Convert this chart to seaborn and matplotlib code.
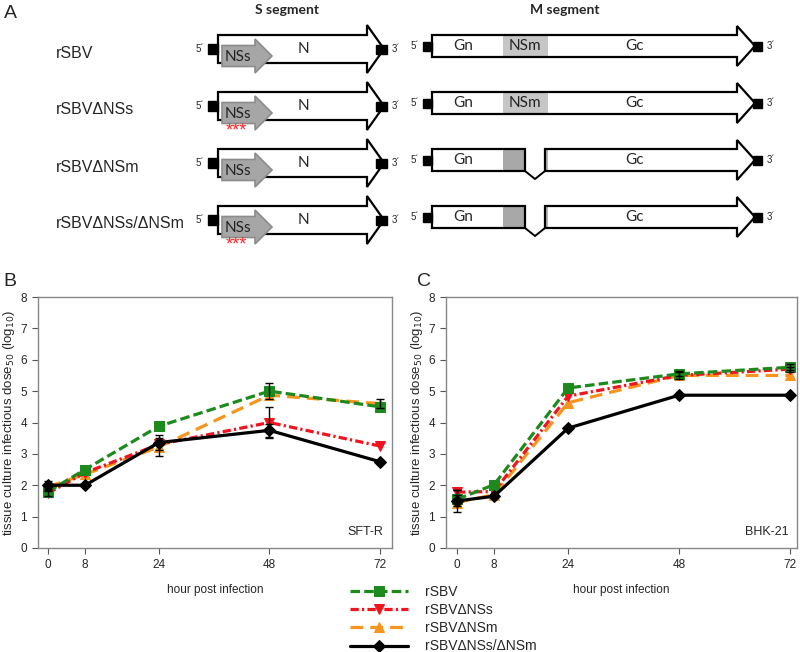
import numpy as np
import pandas as pd
import matplotlib
matplotlib.use("Agg")
import matplotlib.pyplot as plt
import seaborn as sns
from matplotlib.patches import Polygon, Rectangle


# ---- growth curve data (log10 TCID50) ----
HOURS = [0, 8, 24, 48, 72]
SERIES = ["rSBV", "rSBVΔNSs", "rSBVΔNSm", "rSBVΔNSs/ΔNSm"]

sftr_rsbv = [1.8, 2.5, 3.88, 5.0, 4.5]
sftr_dnss = [1.75, 2.4, 3.3, 4.0, 3.25]
sftr_dnsm = [1.95, 2.35, 3.22, 4.87, 4.6]
sftr_double = [2.0, 2.0, 3.36, 3.75, 2.75]

# 0 = no visible error bar
sftr_rsbv_err = [0.0, 0.0, 0.0, 0.25, 0.0]
sftr_dnss_err = [0.08, 0.0, 0.0, 0.5, 0.0]
sftr_dnsm_err = [0.1, 0.0, 0.3, 0.0, 0.15]
sftr_double_err = [0.12, 0.0, 0.25, 0.2, 0.0]

bhk_rsbv = [1.55, 2.02, 5.1, 5.55, 5.76]
bhk_dnss = [1.78, 1.8, 4.84, 5.5, 5.7]
bhk_dnsm = [1.45, 1.7, 4.63, 5.5, 5.5]
bhk_double = [1.5, 1.65, 3.82, 4.87, 4.87]

bhk_rsbv_err = [0.0, 0.0, 0.0, 0.08, 0.1]
bhk_dnss_err = [0.08, 0.0, 0.0, 0.0, 0.08]
bhk_dnsm_err = [0.1, 0.0, 0.0, 0.1, 0.0]
bhk_double_err = [0.35, 0.0, 0.0, 0.0, 0.0]

COLORS = ["#1e8a1e", "#f0141e", "#f7941d", "#000000"]
MARKERS = ["s", "v", "^", "D"]
LINESTYLES = [(0, (3.0, 1.3)), (0, (2.6, 1.0, 0.7, 1.0)), (0, (4.0, 2.2)), "-"]
DRAW_ORDER = [2, 1, 0, 3]

ROW_LABELS = ["rSBV", "rSBVΔNSs", "rSBVΔNSm", "rSBVΔNSs/ΔNSm"]
NSS_MUTATED = [False, True, False, True]
NSM_DELETED = [False, False, True, True]


def long_frame(means, errs):
    rows = []
    for name, m, e in zip(SERIES, means, errs):
        for h, v, s in zip(HOURS, m, e):
            rows.append({"virus": name, "hour": h, "titer": v, "err": s})
    return pd.DataFrame(rows)


sftr_df = long_frame(
    [sftr_rsbv, sftr_dnss, sftr_dnsm, sftr_double],
    [sftr_rsbv_err, sftr_dnss_err, sftr_dnsm_err, sftr_double_err]
)
bhk_df = long_frame(
    [bhk_rsbv, bhk_dnss, bhk_dnsm, bhk_double],
    [bhk_rsbv_err, bhk_dnss_err, bhk_dnsm_err, bhk_double_err]
)


sns.set_style("ticks")
plt.rcParams["font.family"] = ["Liberation Sans", "DejaVu Sans"]

fig = plt.figure(figsize=(8, 6.52), dpi=100)

# overlay axes in pixel coordinates for the schematic and panel letters
ov = fig.add_axes([0, 0, 1, 1])
ov.set_xlim(0, 800)
ov.set_ylim(652, 0)
ov.axis("off")


def arrow_pts(x0, xh, x1, yc, hb, hh):
    return [
        (x0, yc - hb), (xh, yc - hb), (xh, yc - hh), (x1, yc),
        (xh, yc + hh), (xh, yc + hb), (x0, yc + hb)
    ]


LAB_FONT = ["Lato", "DejaVu Sans"]

ov.text(4, 13, "A", fontsize=14, va="center", ha="left")
ov.text(287, 10, "S segment", fontsize=10, weight="bold", ha="center", va="center", family=LAB_FONT)
ov.text(565, 10, "M segment", fontsize=10, weight="bold", ha="center", va="center", family=LAB_FONT)

for i, label in enumerate(ROW_LABELS):
    yc = 49 + 57 * i
    ov.text(56, yc + 4, label, fontsize=11.5, ha="left", va="center")

    # S segment
    ov.add_patch(Polygon(arrow_pts(218, 367, 384, yc, 14, 24), closed=True,
                         facecolor="white", edgecolor="black", lw=1.6, joinstyle="miter"))
    ov.add_patch(Polygon(arrow_pts(222, 255, 272, yc + 7, 10.5, 17), closed=True,
                         facecolor="#a6a6a6", edgecolor="#8c8c8c", lw=1.2))
    ov.add_patch(Rectangle((208, yc - 5), 10, 10, color="black"))
    ov.add_patch(Rectangle((376, yc - 4), 11, 9, color="black"))
    ov.text(200, yc, "5´", fontsize=7, ha="center", va="center")
    ov.text(396, yc, "3´", fontsize=7, ha="center", va="center")
    ov.text(303, yc, "N", fontsize=11, ha="center", va="center", family=LAB_FONT)
    ov.text(238, yc + 8, "NSs", fontsize=11, ha="center", va="center", family=LAB_FONT, color="#222222")
    if NSS_MUTATED[i]:
        ov.text(236, yc + 25, "***", fontsize=13, ha="center", va="center", color="#ff2a2a")

    # M segment
    ym = yc - 3
    hb = 11
    if not NSM_DELETED[i]:
        ov.add_patch(Polygon(arrow_pts(432, 737, 755, ym, hb, 20), closed=True,
                             facecolor="white", edgecolor="none"))
        ov.add_patch(Rectangle((503, ym - hb), 45, 2 * hb, facecolor="#c6c6c6", edgecolor="none"))
        ov.add_patch(Polygon(arrow_pts(432, 737, 755, ym, hb, 20), closed=True,
                             facecolor="none", edgecolor="black", lw=1.6, joinstyle="miter"))
        ov.text(525, ym, "NSm", fontsize=11, ha="center", va="center", family=LAB_FONT, color="#222222")
    else:
        ov.add_patch(Rectangle((503, ym - hb), 22, 2 * hb, facecolor="#a8a8a8", edgecolor="none"))
        ov.add_patch(Rectangle((545, ym - hb), 3, 2 * hb, facecolor="#b4b4b4", edgecolor="none"))
        ov.add_patch(Polygon([(432, ym - hb), (525, ym - hb), (525, ym + hb), (432, ym + hb)],
                             closed=True, facecolor="none", edgecolor="black", lw=1.6))
        ov.add_patch(Polygon(arrow_pts(545, 737, 755, ym, hb, 20), closed=True,
                             facecolor="none", edgecolor="black", lw=1.6, joinstyle="miter"))
        ov.plot([525, 535, 545], [ym + hb, ym + hb + 8, ym + hb], color="black", lw=1.4)
    ov.add_patch(Rectangle((423, ym - 4.5), 9, 9, color="black"))
    ov.add_patch(Rectangle((753, ym - 4), 9, 9, color="black"))
    ov.text(415, ym, "5´", fontsize=7, ha="center", va="center")
    ov.text(771, ym, "3´", fontsize=7, ha="center", va="center")
    ov.text(463, ym, "Gn", fontsize=11, ha="center", va="center", family=LAB_FONT)
    ov.text(635, ym, "Gc", fontsize=11, ha="center", va="center", family=LAB_FONT)

ov.text(3, 281, "B", fontsize=14, va="center", ha="left")
ov.text(417, 281, "C", fontsize=14, va="center", ha="left")


def growth_panel(ax, df, cell_label, xlim):
    for k in DRAW_ORDER:
        name = SERIES[k]
        sub = df[df["virus"] == name]
        sns.lineplot(
            data=sub, x="hour", y="titer", ax=ax,
            color=COLORS[k], linestyle=LINESTYLES[k], linewidth=2.3,
            marker=MARKERS[k], markersize=6.5, markeredgecolor=COLORS[k],
            errorbar=None, label=name, zorder=2
        )
        bars = sub[sub["err"] > 0]
        ax.errorbar(bars["hour"], bars["titer"], yerr=bars["err"], fmt="none",
                    ecolor="black", elinewidth=1, capsize=3, capthick=1, zorder=3)

    if ax.get_legend() is not None:
        ax.get_legend().remove()

    ax.set_xlim(*xlim)
    ax.set_ylim(0, 8)
    ax.set_xticks(HOURS)
    ax.set_yticks(range(0, 9))
    ax.tick_params(labelsize=8.5, length=4, width=0.8, color="#555555", pad=4)
    for sp in ax.spines.values():
        sp.set_visible(True)
        sp.set_color("#888888")
        sp.set_linewidth(1)

    ax.set_xlabel("hour post infection", fontsize=8.5, labelpad=9)
    ax.set_ylabel("tissue culture infectious dose$_{50}$ (log$_{10}$)", fontsize=9.5, labelpad=2)
    ax.text(0.975, 0.065, cell_label, transform=ax.transAxes,
            ha="right", va="center", fontsize=9)


ax_b = fig.add_axes([38 / 800, 104 / 652, 354 / 800, 251 / 652])
ax_c = fig.add_axes([446 / 800, 104 / 652, 351 / 800, 251 / 652])

growth_panel(ax_b, sftr_df, "SFT-R", (-2.2, 74.6))
growth_panel(ax_c, bhk_df, "BHK-21", (-2.4, 73.5))

handles, labels = ax_b.get_legend_handles_labels()
order = [labels.index(s) for s in SERIES]
fig.legend(
    [handles[i] for i in order], [labels[i] for i in order],
    loc="upper left", bbox_to_anchor=(350 / 800, 1 - 585 / 652),
    frameon=False, fontsize=10, handlelength=4.2, handletextpad=1.2,
    labelspacing=0.3, borderpad=0, borderaxespad=0
)

fig.savefig("out.png", dpi=100)
